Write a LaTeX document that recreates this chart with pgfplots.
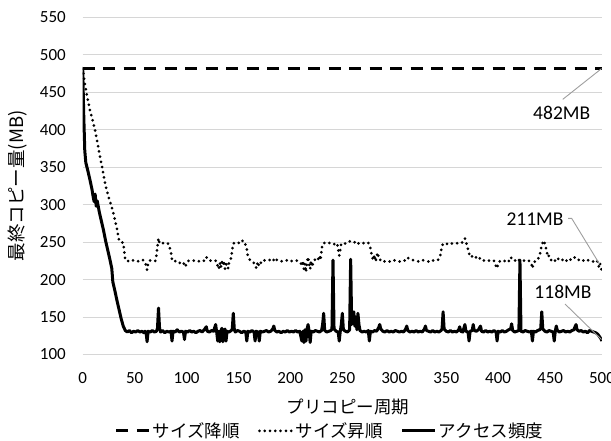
\documentclass[border=0pt]{standalone}
\usepackage{fontspec}
\setmainfont{Carlito}
\newfontfamily\jp{Noto Sans CJK JP}
\usepackage{pgfplots}
\pgfplotsset{compat=1.18}
\begin{document}
\begin{tikzpicture}
\path[use as bounding box] (-82.7pt,-85.5pt) rectangle (528.3pt,354.5pt);
\begin{axis}[
 at={(0pt,0pt)}, anchor=south west, scale only axis,
 width=519.3pt, height=337.2pt,
 xmin=0, xmax=500, ymin=100, ymax=550,
 xtick={0,50,...,500}, ytick={100,150,...,550},
 axis line style={draw=none},
 major tick length=0pt,
 ymajorgrids, grid style={draw=black!16, line width=1pt},
 tick label style={font=\fontsize{17}{20}\selectfont},
 /pgf/number format/assume math mode=true,
 xticklabel style={anchor=center, yshift=-23.8pt},
 yticklabel style={anchor=east, inner sep=0pt, xshift=-16.7pt},
 xlabel={プリコピー周期},
 xlabel style={at={(axis description cs:0.5106,-0.1548)}, anchor=center, font=\jp\fontsize{17.5}{20}\selectfont},
 ylabel={最終コピー量(MB)},
 ylabel style={at={(axis description cs:-0.1256,0.5)}, anchor=center, font=\jp\fontsize{18.5}{20}\selectfont},
 legend columns=3,
 legend style={at={(axis description cs:0.476,-0.2265)}, anchor=center, draw=none, fill=none,
   font=\jp\fontsize{17.5}{20}\selectfont, inner sep=0pt,
   /tikz/every even column/.append style={column sep=16pt}},
 legend image code/.code={\draw[#1] (0pt,0pt) -- (33pt,0pt);},
]
\addplot[black, line width=3.2pt, dash pattern=on 12pt off 8.5pt] coordinates {(0,482)(500,482)};
\addlegendentry{サイズ降順}
\addplot[black, line width=3pt, line cap=round, dash pattern=on 0pt off 5.3pt] coordinates {
(0,482)(1,472)(2,462)(4,446)(7,426)(10,410)(12,399)(15,377)(17,362)(20,340)(22,325)(25,310)(28,297)(31,280)(33,268)(35,252)(37,250)(39,249)(40,238)(41,226)
(43,225)(46,224)(49,226)(52,225)(55,224)(58,226)(60,224)(61,218)(62,213)(63,221)(64,225)(67,226)(70,225)(71,232)(72,245)(73,255)(74,248)(76,249)(79,248)(81,249)(83,247)(85,236)(86,226)(88,224)(90,225)(93,222)(96,224)(98,220)(99,217)(100,222)
(102,225)(105,226)(108,225)(111,224)(114,226)(117,225)(119,230)(121,226)(124,225)(127,226)(129,224)(130,218)(131,214)(132,222)(133,216)(134,224)(135,219)(136,225)(137,214)(138,220)(139,221)(140,215)(141,224)(143,229)(144,240)(145,248)(147,250)(150,249)(152,248)(154,252)(156,250)(157,245)(158,240)(159,232)
(161,226)(163,224)(165,222)(166,218)(167,216)(168,222)(169,217)(170,224)(172,222)(174,226)(177,225)(180,226)(183,224)(185,229)(187,226)(190,224)(193,225)(196,226)(199,224)(202,225)(205,226)(208,224)(210,222)(211,218)(212,225)(213,214)(214,221)(215,210)(216,224)(217,230)(218,220)(219,214)(220,225)(221,217)(222,224)(224,227)(226,225)(228,232)(229,226)(230,240)
(231,248)(233,249)(235,248)(238,249)(240,248)(242,247)(244,249)(245,248)(246,240)(247,232)(248,240)(249,248)(251,249)(253,248)(255,250)(257,251)(259,250)(261,249)(263,251)(265,248)(267,249)(269,248)(271,249)(273,248)(275,249)(277,242)(278,235)(279,229)(280,226)(281,233)(282,224)(283,230)(284,236)(285,229)(286,226)(288,227)(290,224)
(293,225)(296,224)(299,226)(302,225)(305,224)(308,226)(311,225)(313,229)(315,227)(318,226)(321,225)(324,224)(327,226)(330,225)(333,224)(336,226)(339,225)(342,226)(344,230)(345,238)(346,245)(347,248)(350,247)(353,249)(356,248)(359,249)(362,248)(365,249)(367,252)(368,255)(369,250)(370,246)(371,240)(372,235)(373,230)(375,231)(377,228)(379,230)(381,227)(383,229)(385,226)(387,225)(390,226)
(393,224)(396,225)(398,218)(399,215)(400,222)(402,225)(405,224)(408,226)(410,224)(412,230)(414,226)(416,225)(418,228)(420,226)(422,225)(424,226)(427,224)(430,225)(432,221)(433,215)(434,222)(436,225)(438,226)(440,232)(441,240)(442,245)(443,250)(444,252)(445,248)(446,242)(447,236)(448,230)(449,232)(451,226)(453,228)(455,225)(457,229)(459,226)(461,225)(463,228)(465,226)(467,224)(469,227)(471,226)(473,229)(475,230)(477,227)(479,225)(481,226)(483,225)(485,224)(487,226)(489,225)(491,224)(493,225)(495,226)(496,221)(497,217)(498,222)(499,215)(500,211)
};
\addlegendentry{サイズ昇順}
\addplot[black, line width=3pt, line join=round] coordinates {
(0,482)(1,420)(2,372)(3,356)(5,345)(7,333)(9,320)(10,311)(11,304)(12,314)(13,298)(14,305)(16,290)(18,278)(20,266)(22,252)(24,240)(26,228)(28,215)(29,197)(31,185)(33,172)(35,160)(37,148)(39,138)(41,132)
(43,130)(45,132)(47,129)(49,131)(51,130)(53,132)(55,130)(57,131)(59,129)(60,131)(61,130)(62,117)(63,131)(65,130)(67,132)(69,130)(71,131)(72,135)(73,162)(74,135)(75,130)(77,132)(79,129)(81,131)(83,130)(85,131)(86,118)(87,131)(89,130)(91,133)(93,130)(95,131)(97,130)(98,120)(99,131)
(101,130)(103,132)(105,130)(107,131)(109,129)(111,131)(113,132)(115,130)(117,133)(119,137)(120,131)(122,130)(124,132)(126,131)(128,140)(129,130)(130,118)(131,131)(132,117)(133,131)(134,135)(135,117)(136,131)(137,134)(138,118)(139,131)(141,130)(143,132)(144,134)(145,155)(146,133)(147,130)(149,132)(151,131)(153,129)(155,131)(157,130)(158,118)(159,131)
(161,130)(163,132)(165,130)(166,118)(167,131)(169,130)(170,118)(171,131)(173,130)(175,131)(177,132)(179,130)(181,131)(183,134)(184,138)(185,132)(187,130)(189,131)(191,129)(193,131)(195,130)(197,132)(199,130)(201,131)(203,130)(205,132)(207,130)(209,131)(211,118)(212,131)(213,116)(214,133)(215,118)(216,134)(217,140)(218,131)(219,116)(220,131)
(222,130)(224,132)(226,131)(228,130)(230,132)(231,140)(232,155)(233,132)(235,130)(237,131)(239,132)(240,134)(241,226)(242,134)(244,131)(246,130)(247,118)(248,131)(249,140)(250,155)(251,133)(253,131)(255,130)(257,133)(258,227)(259,140)(260,150)(261,157)(262,138)(263,150)(264,133)(265,155)(266,140)(267,132)(269,130)(271,131)(273,130)(275,132)(276,118)(277,131)(279,130)
(281,132)(283,131)(285,136)(286,140)(287,134)(289,131)(291,130)(293,132)(295,130)(297,131)(299,130)(301,132)(303,131)(305,130)(307,131)(309,130)(311,134)(312,138)(313,132)(315,130)(317,131)(319,130)(321,132)(323,130)(325,131)(327,130)(329,134)(330,138)(331,132)(333,131)(335,130)(337,132)(339,130)(341,131)(343,130)(345,132)(346,134)(347,157)(348,134)(350,131)
(352,130)(354,132)(356,130)(358,131)(360,130)(362,133)(363,137)(364,131)(366,130)(368,140)(369,131)(371,130)(372,118)(373,131)(375,132)(376,140)(377,132)(379,131)(381,133)(383,138)(384,131)(386,130)(388,132)(390,130)(392,131)(394,130)(396,132)(398,130)(399,118)(400,131)
(402,130)(404,132)(406,130)(408,131)(410,133)(412,134)(413,141)(414,132)(416,130)(418,131)(420,132)(421,226)(422,131)(424,130)(426,132)(428,131)(430,130)(432,131)(433,118)(434,131)(436,130)(438,132)(440,133)(441,135)(442,157)(443,134)(445,131)(447,130)(449,132)(451,131)(453,130)(454,118)(455,131)(456,138)(457,132)(459,130)
(461,131)(463,132)(465,130)(467,131)(469,130)(471,132)(473,133)(474,137)(475,140)(476,133)(478,131)(480,132)(482,130)(484,131)(486,129)(488,132)(490,131)(492,130)(494,129)(495,128)(496,127)(497,125)(498,123)(499,121)(500,118)
};
\addlegendentry{アクセス頻度}
\node[font=\fontsize{19.5}{22}\selectfont, inner sep=0pt] at (axis cs:461.2,421.9) {482MB};
\draw[black!38, line width=0.9pt] (axis cs:462.2,440.5) -- (axis cs:499.5,481.5);
\node[font=\fontsize{19.5}{22}\selectfont, inner sep=0pt] at (axis cs:435.5,280.4) {211MB};
\draw[black!38, line width=0.9pt] (axis cs:467.3,281.7) -- (axis cs:470.8,281.7) -- (axis cs:497.5,221);
\node[font=\fontsize{19.5}{22}\selectfont, inner sep=0pt] at (axis cs:462.4,183.8) {118MB};
\draw[black!38, line width=0.9pt] (axis cs:464.4,167.4) -- (axis cs:499.5,120);
\end{axis}
\end{tikzpicture}
\end{document}
